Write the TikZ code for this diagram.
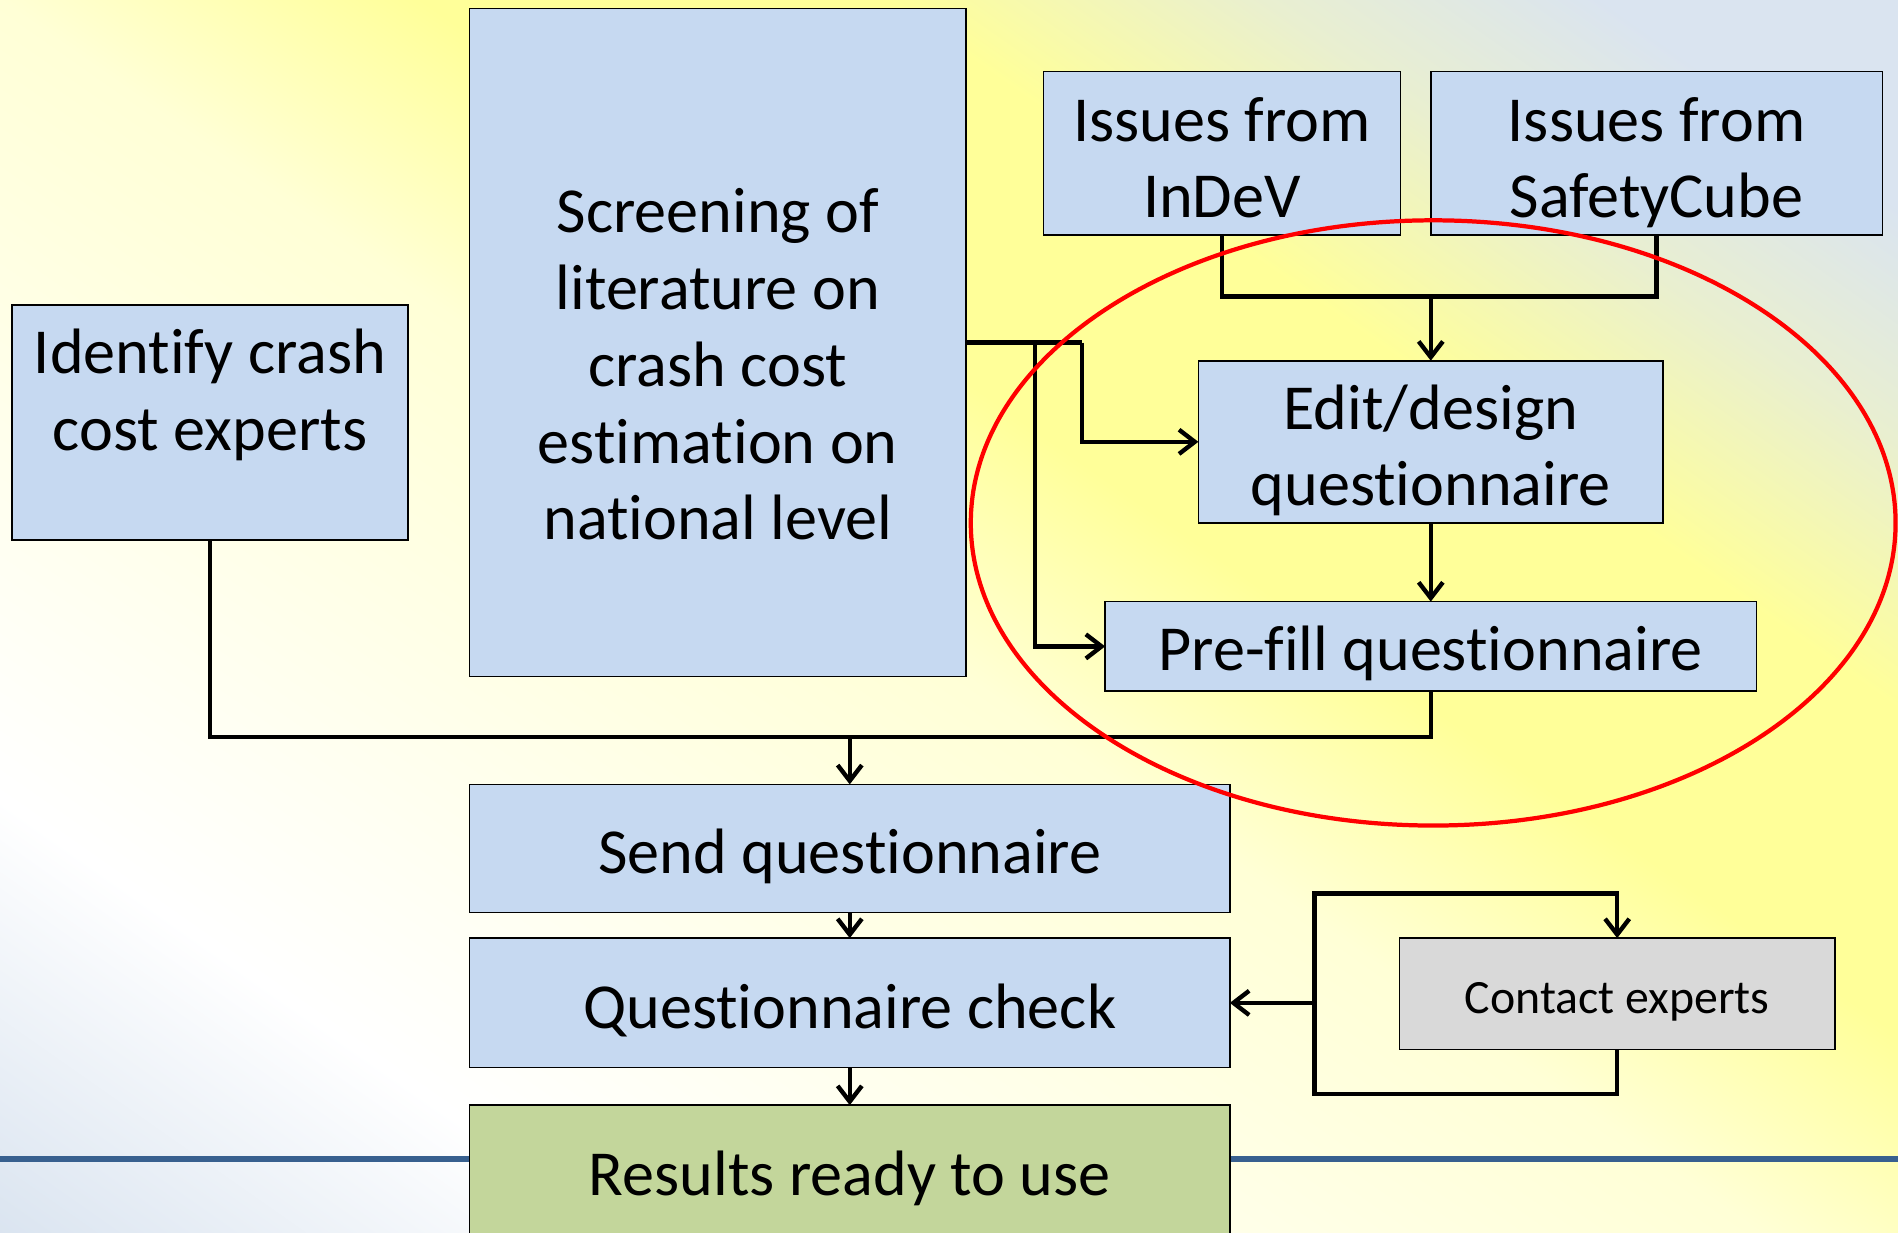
\documentclass[tikz,border=0pt]{standalone}
\usepackage{fontspec}
\setmainfont{Carlito}[Ligatures=NoCommon]
\usetikzlibrary{arrows.meta}
\definecolor{bgblue}{HTML}{DAE4F0}
\definecolor{bgpale}{HTML}{FFFFD6}
\definecolor{bgyellow}{HTML}{FFFF99}
\definecolor{bgmix}{HTML}{E9EFD0}
\definecolor{boxblue}{HTML}{C6D9F1}
\definecolor{boxgreen}{HTML}{C3D69B}
\definecolor{boxgray}{HTML}{D9D9D9}
\definecolor{rulecolor}{HTML}{38608F}
\definecolor{ringred}{HTML}{FF0000}
\pgfdeclarehorizontalshading{bgshade}{2000pt}{color(0pt)=(bgblue); color(297pt)=(white); color(837pt)=(bgpale); color(1037pt)=(bgyellow); color(1257pt)=(bgyellow); color(1437pt)=(bgmix); color(1597pt)=(bgblue); color(1740pt)=(bgblue)}
\tikzset{
  box/.style={draw=black, line width=1.3pt, fill=boxblue, inner sep=0pt, outer sep=0pt},
  txt/.style={font=\fontsize{53}{63.5}\selectfont, align=center, inner sep=0pt, anchor=base},
  smalltxt/.style={font=\fontsize{39.5}{47}\selectfont, align=center, inner sep=0pt, anchor=base},
  conn/.style={line width=3.6pt},
  arr/.style={conn, -{Straight Barb[length=13pt,width=20pt]}},
  ring/.style={draw=ringred, line width=3.5pt},
  rule/.style={draw=rulecolor, line width=4.8pt}
}
\begin{document}
\begin{tikzpicture}[x=1pt,y=-1pt]
\useasboundingbox (0,0) rectangle (1568,1018);
% background
\begin{scope}
  \clip (0,0) rectangle (1568,1018);
  \node[inner sep=0pt, outer sep=0pt, rotate=55, anchor=center] (bg) at (784,509) {\pgfuseshading{bgshade}};
  \coordinate (ruleL) at (0,957.5);
  \coordinate (ruleR) at (1568,957.5);
  \draw[rule] (ruleL) -- (ruleR);
\end{scope}
% boxes
\node[box, minimum width=327pt, minimum height=194pt] (identify) at (173.5,349) {};
\node[box, minimum width=410pt, minimum height=552pt] (screen) at (593,283) {};
\node[box, minimum width=295pt, minimum height=135pt] (indev) at (1009.5,126.5) {};
\node[box, minimum width=373pt, minimum height=135pt] (safety) at (1368.5,126.5) {};
\node[box, minimum width=384pt, minimum height=134pt] (edit) at (1182,365) {};
\node[box, minimum width=538pt, minimum height=74pt] (prefill) at (1182,534) {};
\node[box, minimum width=628pt, minimum height=106pt] (send) at (702,701) {};
\node[box, minimum width=628pt, minimum height=107pt] (check) at (702,828.5) {};
\node[box, fill=boxgreen, minimum width=628pt, minimum height=127pt] (results) at (702,976.5) {};
\node[box, fill=boxgray, minimum width=360pt, minimum height=92pt] (contact) at (1336,821) {};
% texts (anchor = baseline of the last line)
\node[txt] (identify-t) at (173.5,372) {Identify crash\\cost experts};
\node[txt] (screen-t) at (593,446) {Screening of\\literature on\\crash cost\\estimation on\\national level};
\node[txt] (indev-t) at (1009.5,180) {Issues from\\InDeV};
\node[txt] (safety-t) at (1368.5,180) {Issues from\\SafetyCube};
\node[txt] (edit-t) at (1182,418) {Edit/design\\questionnaire};
\node[txt] (prefill-t) at (1182,553.5) {Pre-fill questionnaire};
\node[txt] (send-t) at (702,722) {Send questionnaire};
\node[txt] (check-t) at (702,850) {Questionnaire check};
\node[txt] (results-t) at (702,988) {Results ready to use};
\node[smalltxt] (contact-t) at (1336,837.5) {Contact experts};
% junction coordinates
\coordinate (j1) at (1182,245);
\coordinate (b1) at (855,283);
\coordinate (b2) at (894,283);
\coordinate (j2) at (702,609);
\coordinate (lb) at (1086,904);
\coordinate (lt) at (1086,738);
\coordinate (cl) at (1086,828.5);
% connectors
\draw[conn] (indev.south) |- (j1);
\draw[conn] (safety.south) |- (j1);
\draw[arr] (j1) -- (edit.north);
\draw[conn] (screen.east) -- (b2);
\draw[arr] (b2) |- (edit.west);
\draw[arr] (b1) |- (prefill.west);
\draw[arr] (edit.south) -- (prefill.north);
\draw[conn] (identify.south) |- (j2);
\draw[conn] (prefill.south) |- (j2);
\draw[arr] (j2) -- (send.north);
\draw[arr] (send.south) -- (check.north);
\draw[arr] (check.south) -- (results.north);
\draw[arr] (contact.south) |- (lb) -- (lt) -| (contact.north);
\draw[arr] (cl) -- (check.east);
% red ring
\draw[ring] (1184,432) ellipse [x radius=382, y radius=250];
\end{tikzpicture}
\end{document}
